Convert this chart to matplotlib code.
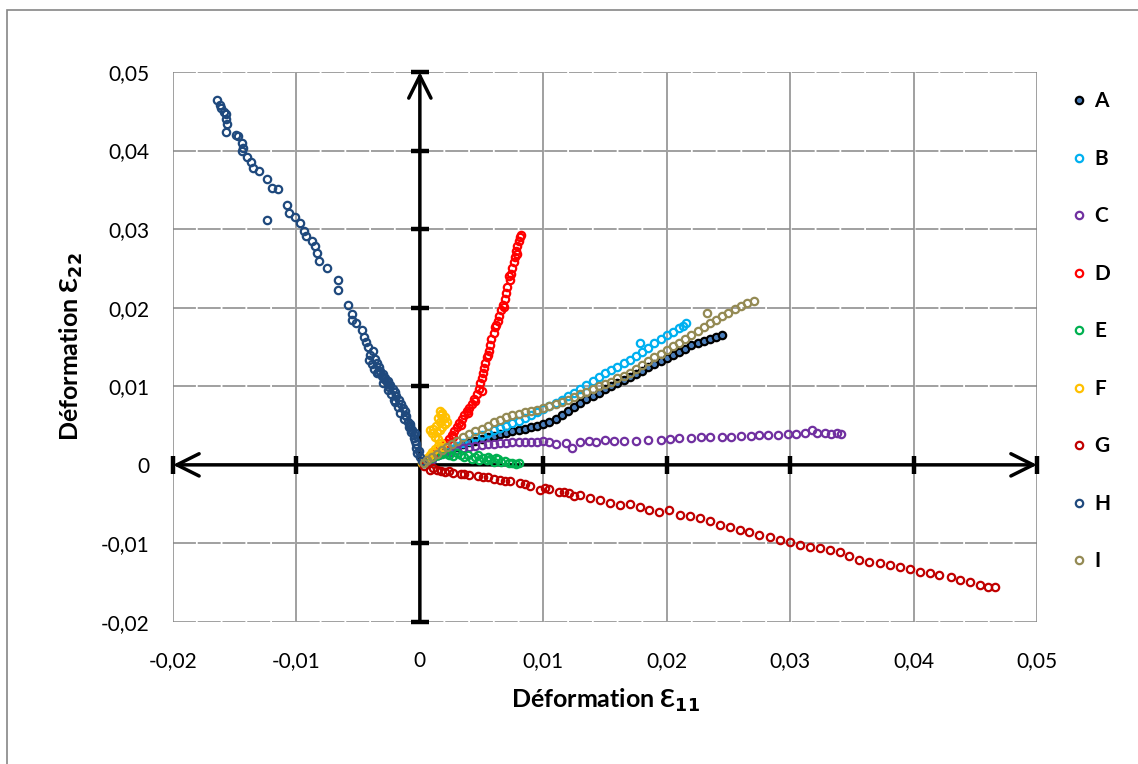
import matplotlib
matplotlib.use("Agg")
import matplotlib.pyplot as plt
from matplotlib.lines import Line2D
from matplotlib.patches import Rectangle

plt.rcParams['font.family'] = ['Lato', 'DejaVu Sans']

# ---------------- data ----------------
series_names = ["A", "B", "C", "D", "E", "F", "G", "H", "I"]
series_colors = ["#000000", "#00B0F0", "#7030A0", "#FF0000", "#00B050",
                 "#FFC000", "#C00000", "#1F497D", "#948A54"]

A_x = [0.0005, 0.001, 0.0015, 0.002, 0.0025, 0.003, 0.0035, 0.004, 0.0045, 0.005, 0.0055, 0.006,
       0.0065, 0.007, 0.0075, 0.008, 0.0085, 0.009, 0.0095, 0.010, 0.0105, 0.011, 0.0115, 0.012,
       0.0125, 0.013, 0.0135, 0.014, 0.0145, 0.015, 0.0155, 0.016, 0.0165, 0.017, 0.0175, 0.018,
       0.0185, 0.019, 0.0195, 0.020, 0.0205, 0.021, 0.0215, 0.022, 0.0225, 0.023, 0.0235, 0.024, 0.0245]
A_y = [0.0004, 0.0008, 0.0012, 0.0016, 0.0020, 0.0023, 0.0026, 0.0029, 0.0031, 0.0033, 0.0035, 0.0037,
       0.0039, 0.0041, 0.0043, 0.0044, 0.0046, 0.0048, 0.0050, 0.0052, 0.0055, 0.0059, 0.0064, 0.0069,
       0.0074, 0.0079, 0.0084, 0.0088, 0.0092, 0.0096, 0.0100, 0.0104, 0.0108, 0.0112, 0.0116, 0.0120,
       0.0124, 0.0128, 0.0132, 0.0136, 0.0140, 0.0144, 0.0148, 0.0152, 0.0155, 0.0158, 0.0160, 0.0163, 0.0165]

B_x = [0.0003, 0.0006, 0.001, 0.0015, 0.002, 0.0025, 0.003, 0.0035, 0.004, 0.0045, 0.005, 0.0055,
       0.006, 0.0065, 0.007, 0.0075, 0.008, 0.0085, 0.009, 0.0095, 0.010, 0.0105, 0.011, 0.0115,
       0.012, 0.0125, 0.013, 0.0135, 0.014, 0.0145, 0.015, 0.0155, 0.016, 0.0165, 0.017, 0.0175,
       0.018, 0.0185, 0.019, 0.0195, 0.020, 0.0205, 0.021, 0.0213, 0.0216, 0.0178]
B_y = [0.0002, 0.0005, 0.0008, 0.0012, 0.0016, 0.0020, 0.0024, 0.0028, 0.0031, 0.0035, 0.0038, 0.0041,
       0.0044, 0.0047, 0.0050, 0.0053, 0.0056, 0.0060, 0.0063, 0.0067, 0.0071, 0.0075, 0.0079, 0.0083,
       0.0088, 0.0092, 0.0097, 0.0102, 0.0107, 0.0112, 0.0117, 0.0121, 0.0125, 0.0130, 0.0134, 0.0139,
       0.0144, 0.0149, 0.0155, 0.0160, 0.0165, 0.0169, 0.0174, 0.0177, 0.0181, 0.0155]

C_x = [0.0003, 0.0006, 0.001, 0.0015, 0.002, 0.0025, 0.003, 0.0035, 0.004, 0.0045, 0.005, 0.0055,
       0.006, 0.0065, 0.007, 0.0075, 0.008, 0.0085, 0.009, 0.0095, 0.010, 0.0105, 0.011, 0.0118,
       0.0123, 0.013, 0.0137, 0.0143, 0.015, 0.0157, 0.0165, 0.0175, 0.0185, 0.0195, 0.0203, 0.021,
       0.022, 0.0228, 0.0235, 0.0245, 0.0252, 0.026, 0.0268, 0.0275, 0.0282, 0.029, 0.0298, 0.0305,
       0.0312, 0.0318, 0.0322, 0.0328, 0.0333, 0.0338, 0.0341]
C_y = [0.0002, 0.0005, 0.0008, 0.0012, 0.0015, 0.0017, 0.0019, 0.0021, 0.0023, 0.0024, 0.0025, 0.0026,
       0.0027, 0.0028, 0.0028, 0.0029, 0.0029, 0.0029, 0.0029, 0.0029, 0.0030, 0.0029, 0.0026, 0.0028,
       0.0022, 0.0029, 0.0031, 0.0029, 0.0032, 0.0030, 0.0031, 0.0030, 0.0032, 0.0032, 0.0033, 0.0034,
       0.0034, 0.0035, 0.0035, 0.0036, 0.0036, 0.0037, 0.0037, 0.0038, 0.0038, 0.0038, 0.0039, 0.0039,
       0.0040, 0.0044, 0.0040, 0.0040, 0.0039, 0.0040, 0.0039]

D_x = [0.0003, 0.0006, 0.0009, 0.0012, 0.0015, 0.0018, 0.0021, 0.0024, 0.0026, 0.0028, 0.0030, 0.0032,
       0.0034, 0.0036, 0.0038, 0.0040, 0.0042, 0.0044, 0.0046, 0.0048, 0.0049, 0.0050, 0.0051, 0.0052,
       0.0053, 0.0054, 0.0056, 0.0057, 0.0058, 0.0060, 0.0061, 0.0063, 0.0064, 0.0066, 0.0067, 0.0069,
       0.0070, 0.0071, 0.0073, 0.0074, 0.0075, 0.0076, 0.0077, 0.0078, 0.0079, 0.0080, 0.0081, 0.0082,
       0.0027, 0.0033, 0.0039, 0.0045, 0.0050, 0.0055, 0.0062, 0.0068, 0.0072, 0.0079]
D_y = [0.0004, 0.0008, 0.0012, 0.0016, 0.0020, 0.0024, 0.0028, 0.0033, 0.0038, 0.0043, 0.0048, 0.0053,
       0.0058, 0.0063, 0.0068, 0.0073, 0.0078, 0.0084, 0.0090, 0.0097, 0.0104, 0.0110, 0.0117, 0.0123,
       0.0130, 0.0137, 0.0145, 0.0152, 0.0160, 0.0168, 0.0175, 0.0183, 0.0190, 0.0197, 0.0204, 0.0211,
       0.0219, 0.0227, 0.0235, 0.0243, 0.0251, 0.0258, 0.0265, 0.0272, 0.0279, 0.0285, 0.0290, 0.0293,
       0.0036, 0.0051, 0.0066, 0.0081, 0.0094, 0.0140, 0.0178, 0.0201, 0.0240, 0.0268]

E_x = [0.0003, 0.0006, 0.0009, 0.0012, 0.0015, 0.0018, 0.0021, 0.0024, 0.0027, 0.0030, 0.0033, 0.0036,
       0.0039, 0.0042, 0.0045, 0.0048, 0.0051, 0.0054, 0.0057, 0.0060, 0.0063, 0.0066, 0.0069, 0.0072,
       0.0075, 0.0078, 0.0080, 0.0047, 0.0055, 0.0062]
E_y = [0.0003, 0.0006, 0.0009, 0.0011, 0.0013, 0.0014, 0.0015, 0.0013, 0.0011, 0.0015, 0.0012, 0.0010,
       0.0012, 0.0008, 0.0010, 0.0006, 0.0009, 0.0006, 0.0008, 0.0004, 0.0007, 0.0004, 0.0005, 0.0002,
       0.0003, 0.0001, 0.0002, 0.0012, 0.0010, 0.0009]

F_x = [0.0002, 0.0004, 0.0006, 0.0008, 0.0010, 0.0012, 0.0015, 0.0018, 0.0017, 0.0015, 0.0012, 0.0010,
       0.0008, 0.0011, 0.0014, 0.0016, 0.0013, 0.0018, 0.0020, 0.0022, 0.0016, 0.0019, 0.0015, 0.0017,
       0.0020, 0.0018, 0.0016]
F_y = [0.0003, 0.0006, 0.0009, 0.0012, 0.0016, 0.0020, 0.0024, 0.0023, 0.0028, 0.0033, 0.0036, 0.0040,
       0.0044, 0.0046, 0.0042, 0.0045, 0.0050, 0.0048, 0.0052, 0.0055, 0.0055, 0.0058, 0.0060, 0.0063,
       0.0061, 0.0066, 0.0068]

G_x = [0.0003, 0.0008, 0.0014, 0.0020, 0.0027, 0.0033, 0.0040, 0.0047, 0.0055, 0.0060, 0.0065, 0.0073,
       0.0081, 0.0089, 0.0097, 0.0105, 0.0113, 0.0121, 0.0130, 0.0138, 0.0146, 0.0154, 0.0162, 0.0170,
       0.0178, 0.0186, 0.0194, 0.0202, 0.0211, 0.0219, 0.0227, 0.0235, 0.0243, 0.0251, 0.0259, 0.0267,
       0.0275, 0.0284, 0.0292, 0.0300, 0.0308, 0.0316, 0.0324, 0.0332, 0.0340, 0.0348, 0.0356, 0.0364,
       0.0373, 0.0381, 0.0389, 0.0397, 0.0405, 0.0413, 0.0421, 0.0430, 0.0438, 0.0446, 0.0454, 0.0460,
       0.0466, 0.0011, 0.0017, 0.0024, 0.0036, 0.0051, 0.0069, 0.0085, 0.0101, 0.0117, 0.0125]
G_y = [-0.0002, -0.0006, -0.0007, -0.0009, -0.0010, -0.0011, -0.0013, -0.0014, -0.0016, -0.0018, -0.0019, -0.0021,
       -0.0023, -0.0027, -0.0032, -0.0031, -0.0034, -0.0036, -0.0038, -0.0042, -0.0045, -0.0048, -0.0051, -0.0050,
       -0.0053, -0.0057, -0.0060, -0.0058, -0.0064, -0.0065, -0.0067, -0.0072, -0.0076, -0.0079, -0.0083, -0.0086,
       -0.0089, -0.0092, -0.0095, -0.0098, -0.0102, -0.0104, -0.0106, -0.0108, -0.0111, -0.0116, -0.0121, -0.0123,
       -0.0125, -0.0127, -0.0130, -0.0133, -0.0136, -0.0138, -0.0140, -0.0143, -0.0146, -0.0149, -0.0153, -0.0155,
       -0.0155, -0.0004, -0.0008, -0.0008, -0.0012, -0.0015, -0.0020, -0.0024, -0.0029, -0.0035, -0.0040]

H_x = [0.0002, 0.0000, -0.0002, -0.0003, -0.0004, -0.0005, -0.0006, -0.0008, -0.0010, -0.0011, -0.0012, -0.0014,
       -0.0015, -0.0017, -0.0019, -0.0020, -0.0022, -0.0024, -0.0026, -0.0028, -0.0030, -0.0032, -0.0033, -0.0035,
       -0.0036, -0.0040, -0.0038, -0.0042, -0.0044, -0.0045, -0.0047, -0.0052, -0.0055, -0.0055, -0.0058, -0.0066,
       -0.0066, -0.0075, -0.0082, -0.0083, -0.0085, -0.0087, -0.0092, -0.0094, -0.0097, -0.0101, -0.0106, -0.0108,
       -0.0124, -0.0115, -0.0120, -0.0124, -0.0130, -0.0135, -0.0137, -0.0140, -0.0144, -0.0143, -0.0144, -0.0147,
       -0.0149, -0.0157, -0.0156, -0.0157, -0.0157, -0.0159, -0.0161, -0.0162, -0.0164,
       -0.0001, -0.0003, -0.0005, -0.0007, -0.0009, -0.0013, -0.0016, -0.0018, -0.0021, -0.0023, -0.0025,
       -0.0027, -0.0029, -0.0031, -0.0034, -0.0037, -0.0039, -0.0041, -0.0004, -0.0008, -0.0012, -0.0020,
       -0.0026, -0.0030, -0.0035]
H_y = [0.0005, 0.0010, 0.0015, 0.0022, 0.0030, 0.0038, 0.0045, 0.0050, 0.0055, 0.0062, 0.0068, 0.0072,
       0.0078, 0.0083, 0.0088, 0.0093, 0.0097, 0.0102, 0.0107, 0.0111, 0.0116, 0.0120, 0.0125, 0.0130,
       0.0135, 0.0140, 0.0145, 0.0150, 0.0156, 0.0163, 0.0172, 0.0180, 0.0185, 0.0192, 0.0204, 0.0223,
       0.0235, 0.0250, 0.0260, 0.0270, 0.0278, 0.0285, 0.0291, 0.0298, 0.0308, 0.0316, 0.0321, 0.0331,
       0.0312, 0.0351, 0.0353, 0.0364, 0.0374, 0.0378, 0.0386, 0.0392, 0.0400, 0.0403, 0.0410, 0.0419,
       0.0420, 0.0424, 0.0434, 0.0440, 0.0447, 0.0449, 0.0454, 0.0458, 0.0464,
       0.0018, 0.0026, 0.0034, 0.0042, 0.0048, 0.0058, 0.0066, 0.0074, 0.0082, 0.0090, 0.0099,
       0.0105, 0.0109, 0.0113, 0.0118, 0.0122, 0.0128, 0.0133, 0.0041, 0.0052, 0.0064, 0.0080,
       0.0095, 0.0104, 0.0117]

I_x = [0.0003, 0.0006, 0.001, 0.0014, 0.0018, 0.0022, 0.0026, 0.003, 0.0035, 0.004, 0.0045, 0.005,
       0.0055, 0.006, 0.0065, 0.007, 0.0075, 0.008, 0.0085, 0.009, 0.0095, 0.010, 0.0105, 0.011,
       0.0115, 0.012, 0.0125, 0.013, 0.0135, 0.014, 0.0145, 0.015, 0.0155, 0.016, 0.0165, 0.017,
       0.0175, 0.018, 0.0185, 0.019, 0.0195, 0.020, 0.0205, 0.021, 0.0215, 0.022, 0.0225, 0.023,
       0.0235, 0.024, 0.0245, 0.025, 0.0255, 0.026, 0.0265, 0.0271, 0.0233]
I_y = [0.0003, 0.0006, 0.0010, 0.0014, 0.0019, 0.0023, 0.0027, 0.0031, 0.0035, 0.0039, 0.0043, 0.0046,
       0.0050, 0.0054, 0.0057, 0.0061, 0.0063, 0.0065, 0.0067, 0.0068, 0.0070, 0.0072, 0.0075, 0.0077,
       0.0080, 0.0083, 0.0086, 0.0090, 0.0093, 0.0096, 0.0100, 0.0103, 0.0106, 0.0110, 0.0113, 0.0117,
       0.0122, 0.0127, 0.0132, 0.0137, 0.0141, 0.0146, 0.0151, 0.0155, 0.0160, 0.0165, 0.0170, 0.0175,
       0.0180, 0.0185, 0.0189, 0.0193, 0.0198, 0.0202, 0.0206, 0.0209, 0.0193]

series_x = [A_x, B_x, C_x, D_x, E_x, F_x, G_x, H_x, I_x]
series_y = [A_y, B_y, C_y, D_y, E_y, F_y, G_y, H_y, I_y]

x_ticks = [-0.02, -0.01, 0, 0.01, 0.02, 0.03, 0.04, 0.05]
y_ticks = [-0.02, -0.01, 0, 0.01, 0.02, 0.03, 0.04, 0.05]
x_ticklabels = ["-0,02", "-0,01", "0", "0,01", "0,02", "0,03", "0,04", "0,05"]
y_ticklabels = ["-0,02", "-0,01", "0", "0,01", "0,02", "0,03", "0,04", "0,05"]
x_label = "Déformation Ɛ$_{\\mathbf{11}}$"
y_label = "Déformation Ɛ$_{\\mathbf{22}}$"

# ---------------- figure ----------------
W, H = 1138, 764
fig = plt.figure(figsize=(W / 100, H / 100), dpi=100)
ax = fig.add_axes([173 / W, 1 - 622 / H, (1037 - 173) / W, (622 - 72) / H])

grid_c = "#868686"
ax.set_xlim(-0.02, 0.05)
ax.set_ylim(-0.02, 0.05)
ax.set_xticks(x_ticks)
ax.set_yticks(y_ticks)
ax.set_xticklabels(x_ticklabels)
ax.set_yticklabels(y_ticklabels)
for s in ax.spines.values():
    s.set_visible(False)
ax.tick_params(length=0, labelsize=15, colors="black")
ax.tick_params(axis="x", pad=21)
ax.tick_params(axis="y", pad=17)

for xv in x_ticks:
    ax.axvline(xv, color=grid_c, lw=1.1, zorder=0.5)
for yv in y_ticks:
    ax.axhline(yv, color=grid_c, lw=1.1, ls=(0, (15, 1.2)), zorder=0.5)

# black axes with arrows
ax.annotate("", xy=(0.05, 0), xytext=(-0.02, 0), xycoords="data",
            arrowprops=dict(arrowstyle="<->", lw=2.5, color="black",
                            shrinkA=0, shrinkB=0, mutation_scale=40), zorder=2)
ax.annotate("", xy=(0, 0.05), xytext=(0, -0.02), xycoords="data",
            arrowprops=dict(arrowstyle="->", lw=2.5, color="black",
                            shrinkA=0, shrinkB=0, mutation_scale=40), zorder=2)
ax.plot([t for t in x_ticks if t != 0], [0] * (len(x_ticks) - 1), ls="none",
        marker="|", markersize=13, mew=3.2, color="black", zorder=2, clip_on=False)
ax.plot([0] * (len(y_ticks) - 1), [t for t in y_ticks if t != 0], ls="none",
        marker="_", markersize=13, mew=3.2, color="black", zorder=2, clip_on=False)

handles = []
for i, (name, col) in enumerate(zip(series_names, series_colors)):
    face = "#4A7EBB" if name == "A" else "none"
    ax.plot(series_x[i], series_y[i], ls="none", marker="o", markersize=5.3,
            mfc=face, mec=col, mew=1.6, zorder=3 + i)
    handles.append(Line2D([], [], ls="none", marker="o", markersize=5.3,
                          mfc=face, mec=col, mew=1.6, label=name))

leg = fig.legend(handles=handles, loc="upper left",
                 bbox_to_anchor=(1060 / W, 1 - 83 / H), frameon=False,
                 prop=dict(weight="bold", size=15), labelspacing=1.8,
                 handlelength=1.0, handletextpad=0.25, borderaxespad=0)

ax.set_xlabel(x_label, fontsize=18, fontweight="bold", labelpad=11)
ax.set_ylabel(y_label, fontsize=18, fontweight="bold", labelpad=11)

fig.patches.append(Rectangle((7 / W, -0.1), 1.2, 1 - 10 / H + 0.1,
                             transform=fig.transFigure, fill=False,
                             edgecolor=grid_c, lw=1.2))

fig.savefig("out.png", dpi=100)
